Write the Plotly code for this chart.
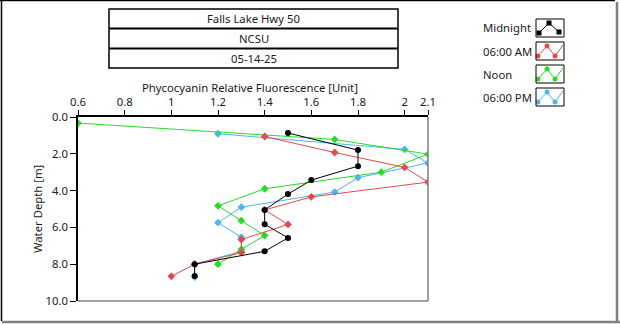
import plotly.graph_objects as go

W, H = 620, 324

# ---- data ----
x_ticks = [0.6, 0.8, 1.0, 1.2, 1.4, 1.6, 1.8, 2.0, 2.1]
x_ticktext = ["0.6", "0.8", "1", "1.2", "1.4", "1.6", "1.8", "2", "2.1"]
y_ticks = [0, 2, 4, 6, 8, 10]

midnight_x = [1.5, 1.8, 1.8, 1.6, 1.5, 1.4, 1.4, 1.5, 1.4, 1.1, 1.1]
midnight_d = [0.87, 1.8, 2.67, 3.43, 4.19, 5.05, 5.83, 6.57, 7.3, 8.0, 8.64]

am_x = [1.4, 1.7, 2.0, 2.1, 1.6, 1.4, 1.5, 1.3, 1.3, 1.1, 1.0]
am_d = [1.06, 1.93, 2.74, 3.54, 4.34, 5.05, 5.84, 6.66, 7.37, 8.0, 8.66]

noon_x = [0.6, 1.7, 2.1, 1.9, 1.4, 1.2, 1.3, 1.4, 1.3, 1.2]
noon_d = [0.33, 1.22, 2.02, 3.0, 3.9, 4.83, 5.63, 6.44, 7.19, 8.0]

pm_x = [1.2, 2.0, 2.1, 1.8, 1.7, 1.3, 1.2, 1.3, 1.3, 1.1, 1.1]
pm_d = [0.91, 1.76, 2.5, 3.3, 4.08, 4.9, 5.74, 6.53, 7.3, 8.0, 8.7]

series_names = ["Midnight", "06:00 AM", "Noon", "06:00 PM"]
series_colors = ["#000000", "#E5484D", "#22DD22", "#4DB6EA"]
title_lines = ["Falls Lake Hwy 50", "NCSU", "05-14-25"]

FONT = "Noto Sans"
FS = 11.3
TXT = "#1a1a1a"

# plot area in pixels
PL, PR, PT, PB = 78, 428, 117, 301

def fx(px):
    return px / W

def fy(py):
    return 1 - py / H

fig = go.Figure()

data = [
    (pm_x, pm_d, 3, "diamond", 6),
    (noon_x, noon_d, 2, "diamond", 6),
    (am_x, am_d, 1, "diamond", 6),
    (midnight_x, midnight_d, 0, "circle", 6),
]
for xs, ds, i, sym, sz in data:
    fig.add_trace(go.Scatter(
        x=xs, y=ds, mode="lines+markers", name=series_names[i],
        line=dict(color=series_colors[i], width=1),
        marker=dict(color=series_colors[i], size=sz, symbol=sym, line=dict(width=0)),
        showlegend=False, xaxis="x", yaxis="y",
    ))

# ---- custom legend glyphs (auxiliary pixel axis) ----
row_y = [28, 51, 74, 97]
glyph_black = ([539, 549, 559], [5, -5, 4])
glyph_wave = ([538, 547, 555, 563], [5, -5, 5, -6])
for i, name in enumerate(series_names):
    gx, gy = glyph_black if i == 0 else glyph_wave
    yy = [row_y[i] + v for v in gy]
    fig.add_trace(go.Scatter(
        x=gx, y=yy, mode="lines", line=dict(color=series_colors[i], width=1),
        showlegend=False, hoverinfo="skip", xaxis="x2", yaxis="y2", cliponaxis=False,
    ))
    fig.add_trace(go.Scatter(
        x=gx[:3], y=yy[:3], mode="markers",
        marker=dict(color=series_colors[i], size=5,
                    symbol="square" if i == 0 else "circle", line=dict(width=0)),
        showlegend=False, hoverinfo="skip", xaxis="x2", yaxis="y2", cliponaxis=False,
    ))

shapes = []
annotations = []

# legend boxes and text
for i, name in enumerate(series_names):
    shapes.append(dict(type="rect", xref="paper", yref="paper",
                       x0=fx(536), x1=fx(564), y0=fy(row_y[i] - 9), y1=fy(row_y[i] + 9),
                       line=dict(color="#000000", width=1), fillcolor="rgba(0,0,0,0)"))
    annotations.append(dict(text=name, xref="paper", yref="paper", x=fx(481), y=fy(row_y[i]),
                            xanchor="left", yanchor="middle", showarrow=False,
                            font=dict(family=FONT, size=FS, color=TXT)))

# title boxes
box_x0, box_x1 = 109, 398
rows = [(9, 28.5), (28.5, 48.5), (48.5, 68)]
shapes.append(dict(type="rect", xref="paper", yref="paper",
                   x0=fx(box_x0), x1=fx(box_x1), y0=fy(68), y1=fy(9),
                   line=dict(color="#000000", width=1.5)))
for yl in (28.5, 48.5):
    shapes.append(dict(type="line", xref="paper", yref="paper",
                       x0=fx(box_x0), x1=fx(box_x1), y0=fy(yl), y1=fy(yl),
                       line=dict(color="#000000", width=2)))
for (a, b), t in zip(rows, title_lines):
    annotations.append(dict(text=t, xref="paper", yref="paper", x=fx((box_x0 + box_x1) / 2),
                            y=fy((a + b) / 2), xanchor="center", yanchor="middle", showarrow=False,
                            font=dict(family=FONT, size=FS, color=TXT)))

# axis titles
annotations.append(dict(text="Phycocyanin Relative Fluorescence [Unit]", xref="paper", yref="paper",
                        x=fx(250), y=fy(87), xanchor="center", yanchor="middle", showarrow=False,
                        font=dict(family=FONT, size=FS, color=TXT)))
annotations.append(dict(text="Water Depth [m]", xref="paper", yref="paper",
                        x=fx(37), y=fy(209), xanchor="center", yanchor="middle", showarrow=False,
                        textangle=-90, font=dict(family=FONT, size=FS, color=TXT)))

# plot frame: right/bottom gray
shapes.append(dict(type="line", xref="paper", yref="paper", x0=fx(PR), x1=fx(PR),
                   y0=fy(PT), y1=fy(PB), line=dict(color="#808080", width=1.5)))
shapes.append(dict(type="line", xref="paper", yref="paper", x0=fx(PL), x1=fx(PR),
                   y0=fy(PB), y1=fy(PB), line=dict(color="#808080", width=1.5)))

# outer border
shapes.append(dict(type="line", xref="paper", yref="paper", x0=0, x1=fx(615),
                   y0=fy(0.5), y1=fy(0.5), line=dict(color="#000000", width=1.5)))
shapes.append(dict(type="line", xref="paper", yref="paper", x0=fx(1.5), x1=fx(1.5),
                   y0=fy(0), y1=fy(321), line=dict(color="#000000", width=1.5)))
shapes.append(dict(type="line", xref="paper", yref="paper", x0=fx(2), x1=1,
                   y0=fy(322), y1=fy(322), line=dict(color="#808080", width=2.5)))
shapes.append(dict(type="line", xref="paper", yref="paper", x0=fx(617), x1=fx(617),
                   y0=fy(2), y1=fy(323), line=dict(color="#808080", width=2.5)))

tickfont = dict(family=FONT, size=FS, color=TXT)
fig.update_layout(
    width=W, height=H,
    margin=dict(l=0, r=0, t=0, b=0),
    paper_bgcolor="white", plot_bgcolor="rgba(0,0,0,0)",
    showlegend=False,
    xaxis=dict(domain=[fx(PL), fx(PR)], range=[0.6, 2.1], side="top",
               tickvals=x_ticks, ticktext=x_ticktext, tickfont=tickfont,
               ticks="outside", ticklen=5, tickcolor="#000000", tickwidth=1,
               showline=True, linecolor="#000000", linewidth=1.5,
               showgrid=False, zeroline=False, automargin=False, anchor="y"),
    yaxis=dict(domain=[fy(PB), fy(PT)], range=[10, 0],
               tickvals=y_ticks, tickformat=".1f", tickfont=tickfont,
               ticks="outside", ticklen=6, tickcolor="#000000", tickwidth=1,
               showline=True, linecolor="#000000", linewidth=1.5,
               showgrid=False, zeroline=False, automargin=False, anchor="x"),
    xaxis2=dict(domain=[0, 1], range=[0, W], visible=False, anchor="y2", fixedrange=True),
    yaxis2=dict(domain=[0, 1], range=[H, 0], visible=False, anchor="x2", fixedrange=True),
    shapes=shapes,
    annotations=annotations,
)

fig.write_html("out.html")
